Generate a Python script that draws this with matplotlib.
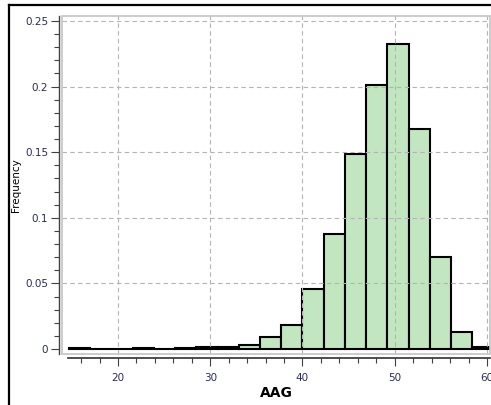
import numpy as np
import matplotlib
matplotlib.use("Agg")
import matplotlib.pyplot as plt
from matplotlib.patches import Rectangle
from matplotlib.lines import Line2D
from matplotlib.ticker import MultipleLocator

# histogram of AAG: left bin edges and relative frequency
bin_left = [14.7, 17.0, 19.3, 21.6, 23.9, 26.2, 28.5, 30.8, 33.1, 35.4,
            37.7, 40.0, 42.3, 44.6, 46.9, 49.2, 51.5, 53.8, 56.1, 58.4]
freq = [0.001, 0.0, 0.0, 0.001, 0.0, 0.001, 0.0015, 0.0015, 0.003, 0.009,
        0.0183, 0.0455, 0.088, 0.1484, 0.201, 0.2322, 0.168, 0.0704, 0.0127, 0.0018]
bin_width = 2.3

x_ticks = [20, 30, 40, 50, 60]
x_minor = [16, 18, 22, 24, 26, 28, 32, 34, 36, 38, 42, 44, 46, 48, 52, 54, 56, 58]
y_ticks = [0, 0.05, 0.1, 0.15, 0.2, 0.25]
y_tick_labels = ["0", "0.05", "0.1", "0.15", "0.2", "0.25"]

W, H = 491, 405
fig = plt.figure(figsize=(W / 100, H / 100), dpi=100)
plt.rcParams['font.family'] = ['DejaVu Sans']
tick_col = "#2a2a5a"

ax = fig.add_axes([62 / W, 51 / H, 428 / W, 338 / H])
ax.bar(bin_left, freq, width=bin_width, align='edge', color="#c2e6c0",
       edgecolor="black", linewidth=1.5, zorder=2)

ax.set_xlim(13.93, 60.33)
ax.set_ylim(-0.0038, 0.2538)

# dashed grid on top of the bars
for xv in x_ticks:
    ax.axvline(xv, color="#b4b4b4", lw=0.8, ls=(0, (4, 3)), zorder=3)
for yv in y_ticks[1:]:
    ax.axhline(yv, color="#b4b4b4", lw=0.8, ls=(0, (4, 3)), zorder=3)

# light grey plot frame
ax.add_patch(Rectangle((0, 0), 1, 1, transform=ax.transAxes, fill=False,
                       edgecolor="#c4c4c4", lw=1.2, zorder=4, clip_on=False))

for s in ["top", "right"]:
    ax.spines[s].set_visible(False)
ax.spines['left'].set_position(('outward', 2))
ax.spines['bottom'].set_position(('outward', 3))
ax.spines['left'].set_color("#404040")
ax.spines['bottom'].set_color("#303030")
ax.spines['left'].set_linewidth(1.0)
ax.spines['bottom'].set_linewidth(1.2)
ax.spines['bottom'].set_bounds(14.6, 60.33)

ax.set_xticks(x_ticks)
ax.set_xticks(x_minor, minor=True)
ax.set_yticks(y_ticks)
ax.set_yticklabels(y_tick_labels)
ax.yaxis.set_minor_locator(MultipleLocator(0.01))
ax.tick_params(axis='both', which='major', length=6, width=0.8, color="#404040",
               labelsize=7.5, labelcolor=tick_col, pad=2)
ax.tick_params(axis='both', which='minor', length=3.5, width=0.8, color="#404040")
ax.tick_params(axis='x', which='major', pad=5)

ax.set_xlabel("AAG", fontsize=10, fontweight='bold', color="black", labelpad=2)
ax.set_ylabel("Frequency", fontsize=7.5, color="black", labelpad=3)

# outer window border
fig.add_artist(Line2D([8.5 / W, 8.5 / W], [0, 1 - 5 / H], transform=fig.transFigure,
                      color="black", lw=1.6))
fig.add_artist(Line2D([8.5 / W, 1], [1 - 5 / H, 1 - 5 / H], transform=fig.transFigure,
                      color="black", lw=1.6))

fig.savefig("out.png", dpi=100)
